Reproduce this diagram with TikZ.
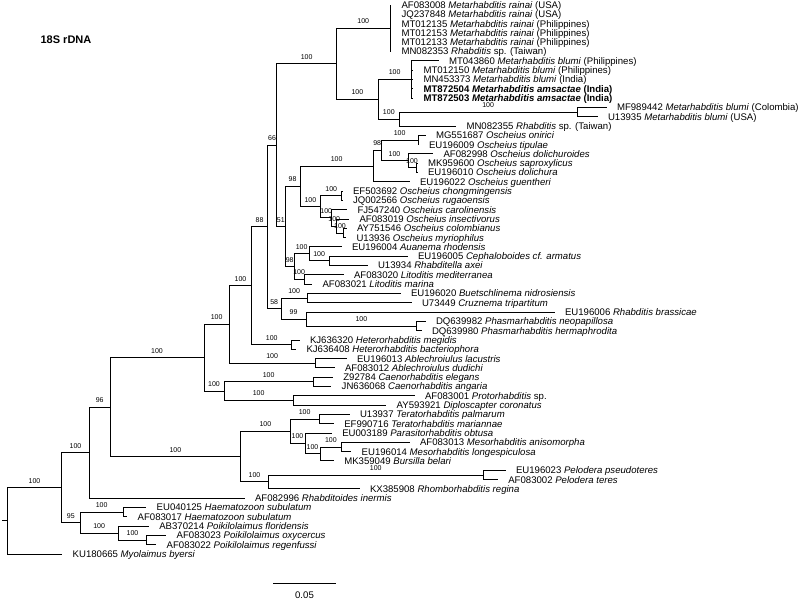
\documentclass[tikz,border=0pt]{standalone}
\usepackage{fontspec}
\setmainfont{Liberation Sans}
\tikzset{
  leaf/.style={anchor=west, inner xsep=0pt, outer xsep=10.5pt, inner ysep=0pt,
    text height=6.9pt, text depth=0pt, font=\fontsize{9.6}{10}\selectfont},
  boot/.style={pos=.75, above=4pt, inner sep=0pt, font=\fontsize{7}{8}\selectfont},
}
\begin{document}
\begin{tikzpicture}[x=1pt,y=-1pt,line width=0.9pt]
\useasboundingbox (0,0) rectangle (800,600);
% Titol
\node[font=\bfseries\fontsize{11}{13}\selectfont] (tit) at (66,40) {18S rDNA};
% Fulles
\node[leaf] (l0) at (391,5) {AF083008 \textit{Metarhabditis rainai} (USA)};
\node[leaf] (l1) at (391,14.3) {JQ237848 \textit{Metarhabditis rainai} (USA)};
\node[leaf] (l2) at (391,23.6) {MT012135 \textit{Metarhabditis rainai} (Philippines)};
\node[leaf] (l3) at (391,32.9) {MT012153 \textit{Metarhabditis rainai} (Philippines)};
\node[leaf] (l4) at (391,42.2) {MT012133 \textit{Metarhabditis rainai} (Philippines)};
\node[leaf] (l5) at (391,51.5) {MN082353 \textit{Rhabditis} sp. (Taiwan)};
\node[leaf] (l6) at (438.5,60.8) {MT043860 \textit{Metarhabditis blumi} (Philippines)};
\node[leaf] (l7) at (413,70.1) {MT012150 \textit{Metarhabditis blumi} (Philippines)};
\node[leaf] (l8) at (413,79.4) {MN453373 \textit{Metarhabditis blumi} (India)};
\node[leaf] (l9) at (413,88.7) {\bfseries MT872504 \textit{Metarhabditis amsactae} (India)};
\node[leaf] (l10) at (413,98.1) {\bfseries MT872503 \textit{Metarhabditis amsactae} (India)};
\node[leaf] (l11) at (606.5,107.4) {MF989442 \textit{Metarhabditis blumi} (Colombia)};
\node[leaf] (l12) at (597.5,116.7) {U13935 \textit{Metarhabditis blumi} (USA)};
\node[leaf] (l13) at (456,126) {MN082355 \textit{Rhabditis} sp. (Taiwan)};
\node[leaf] (l14) at (425.5,135.3) {MG551687 \textit{Oscheius onirici}};
\node[leaf] (l15) at (418.5,144.6) {EU196009 \textit{Oscheius tipulae}};
\node[leaf] (l16) at (433,153.9) {AF082998 \textit{Oscheius dolichuroides}};
\node[leaf] (l17) at (417.5,163.2) {MK959600 \textit{Oscheius saproxylicus}};
\node[leaf] (l18) at (417.5,172.5) {EU196010 \textit{Oscheius dolichura}};
\node[leaf] (l19) at (409.5,181.8) {EU196022 \textit{Oscheius guentheri}};
\node[leaf] (l20) at (342.5,191.1) {EF503692 \textit{Oscheius chongmingensis}};
\node[leaf] (l21) at (342.5,200.4) {JQ002566 \textit{Oscheius rugaoensis}};
\node[leaf] (l22) at (347,209.7) {FJ547240 \textit{Oscheius carolinensis}};
\node[leaf] (l23) at (349,219) {AF083019 \textit{Oscheius insectivorus}};
\node[leaf] (l24) at (346.5,228.3) {AY751546 \textit{Oscheius colombianus}};
\node[leaf] (l25) at (346,237.6) {U13936 \textit{Oscheius myriophilus}};
\node[leaf] (l26) at (341.5,246.9) {EU196004 \textit{Auanema rhodensis}};
\node[leaf] (l27) at (407.5,256.2) {EU196005 \textit{Cephaloboides cf. armatus}};
\node[leaf] (l28) at (367.5,265.5) {U13934 \textit{Rhabditella axei}};
\node[leaf] (l29) at (343.5,274.8) {AF083020 \textit{Litoditis mediterranea}};
\node[leaf] (l30) at (312,284.2) {AF083021 \textit{Litoditis marina}};
\node[leaf] (l31) at (400.5,293.5) {EU196020 \textit{Buetschlinema nidrosiensis}};
\node[leaf] (l32) at (411.5,302.8) {U73449 \textit{Cruznema tripartitum}};
\node[leaf] (l33) at (554.5,312.1) {EU196006 \textit{Rhabditis brassicae}};
\node[leaf] (l34) at (425.5,321.4) {DQ639982 \textit{Phasmarhabditis neopapillosa}};
\node[leaf] (l35) at (421.5,330.7) {DQ639980 \textit{Phasmarhabditis hermaphrodita}};
\node[leaf] (l36) at (299.5,340) {KJ636320 \textit{Heterorhabditis megidis}};
\node[leaf] (l37) at (296,349.3) {KJ636408 \textit{Heterorhabditis bacteriophora}};
\node[leaf] (l38) at (346.5,358.6) {EU196013 \textit{Ablechroiulus lacustris}};
\node[leaf] (l39) at (334.5,367.9) {AF083012 \textit{Ablechroiulus dudichi}};
\node[leaf] (l40) at (332.8,377.2) {Z92784 \textit{Caenorhabditis elegans}};
\node[leaf] (l41) at (331.2,386.5) {JN636068 \textit{Caenorhabditis angaria}};
\node[leaf] (l42) at (414.5,395.8) {AF083001 \textit{Protorhabditis} sp.};
\node[leaf] (l43) at (386.2,405.1) {AY593921 \textit{Diploscapter coronatus}};
\node[leaf] (l44) at (349.5,414.4) {U13937 \textit{Teratorhabditis palmarum}};
\node[leaf] (l45) at (333.8,423.7) {EF990716 \textit{Teratorhabditis mariannae}};
\node[leaf] (l46) at (331.8,433) {EU003189 \textit{Parasitorhabditis obtusa}};
\node[leaf] (l47) at (409.5,442.3) {AF083013 \textit{Mesorhabditis anisomorpha}};
\node[leaf] (l48) at (351.2,451.6) {EU196014 \textit{Mesorhabditis longespiculosa}};
\node[leaf] (l49) at (333.8,460.9) {MK359049 \textit{Bursilla belari}};
\node[leaf] (l50) at (505.5,470.3) {EU196023 \textit{Pelodera pseudoteres}};
\node[leaf] (l51) at (497.8,479.6) {AF083002 \textit{Pelodera teres}};
\node[leaf] (l52) at (359.5,488.9) {KX385908 \textit{Rhomborhabditis regina}};
\node[leaf] (l53) at (244.5,498.2) {AF082996 \textit{Rhabditoides inermis}};
\node[leaf] (l54) at (146.2,507.5) {EU040125 \textit{Haematozoon subulatum}};
\node[leaf] (l55) at (127.2,516.8) {AF083017 \textit{Haematozoon subulatum}};
\node[leaf] (l56) at (148.8,526.1) {AB370214 \textit{Poikilolaimus floridensis}};
\node[leaf] (l57) at (166.2,535.4) {AF083023 \textit{Poikilolaimus oxycercus}};
\node[leaf] (l58) at (156.2,544.7) {AF083022 \textit{Poikilolaimus regenfussi}};
\node[leaf] (l59) at (62.2,554) {KU180665 \textit{Myolaimus byersi}};
% Nodes interns
\coordinate (st) at (2,520.8);
\coordinate (rt) at (7.3,520.8);
\coordinate (nA) at (61.7,487.65);
\coordinate (r1) at (89.3,452.7);
\coordinate (nC) at (80,522.6);
\coordinate (hz) at (123.3,512.15);
\coordinate (pk) at (118.3,533.1);
\coordinate (po) at (146.7,540.05);
\coordinate (n96) at (110,407.2);
\coordinate (nB) at (204,357.8);
\coordinate (x4) at (229.3,324.5);
\coordinate (x3) at (251.7,285.8);
\coordinate (x2) at (267.3,226.9);
\coordinate (x1) at (276.7,145.15);
\coordinate (met) at (336.5,63.7);
\coordinate (mr) at (390,28.25);
\coordinate (bl) at (378.3,99.2);
\coordinate (bb) at (411,79.45);
\coordinate (lr) at (399.3,119);
\coordinate (mf) at (577,112.05);
\coordinate (n51) at (285,226.6);
\coordinate (o98) at (300,186.45);
\coordinate (og) at (373.3,166.1);
\coordinate (os) at (381,150.4);
\coordinate (on) at (418.3,139.95);
\coordinate (d1) at (408,160.9);
\coordinate (d2) at (416,167.85);
\coordinate (op) at (320.7,206.8);
\coordinate (och) at (341.7,195.75);
\coordinate (oc) at (331.7,217.85);
\coordinate (od) at (336.7,226);
\coordinate (oe) at (343.3,232.95);
\coordinate (a98) at (294.3,266.7);
\coordinate (ar) at (309,253.9);
\coordinate (cr) at (329.3,260.85);
\coordinate (lt) at (304,279.5);
\coordinate (n58) at (281,308.6);
\coordinate (bc) at (307.3,298.15);
\coordinate (rp) at (306,319.1);
\coordinate (ph) at (416.7,326.05);
\coordinate (ht) at (291.7,344.65);
\coordinate (ab) at (315,363.25);
\coordinate (cp) at (224,391.15);
\coordinate (ce) at (313.3,381.85);
\coordinate (pd) at (293.3,400.45);
\coordinate (nM) at (240.7,456.6);
\coordinate (tt) at (290,431.25);
\coordinate (tr) at (319.3,419.05);
\coordinate (ms) at (305,443.45);
\coordinate (mb) at (320,453.9);
\coordinate (me) at (341.7,446.95);
\coordinate (pr) at (268.3,481.9);
\coordinate (pl) at (483.3,474.95);
% Arrel i grups basals
\draw (st) -- (rt);
\draw (rt) |- (nA) node[boot]{100};
\draw (rt) |- (l59.west);
\draw (nA) |- (r1) node[boot]{100};
\draw (nA) |- (nC) node[boot]{95};
\draw (nC) |- (hz) node[boot]{100};
\draw (nC) |- (pk) node[boot]{100};
\draw (hz) |- (l54.west);
\draw (hz) |- (l55.west);
\draw (pk) |- (l56.west);
\draw (pk) |- (po) node[boot]{100};
\draw (po) |- (l57.west);
\draw (po) |- (l58.west);
\draw (r1) |- (n96) node[boot]{96};
\draw (r1) |- (l53.west);
\draw (n96) |- (nB) node[boot]{100};
\draw (n96) |- (nM) node[boot]{100};
% Caenorhabditis i afins
\draw (nB) |- (x4) node[boot]{100};
\draw (nB) |- (cp) node[boot]{100};
\draw (cp) |- (ce) node[boot]{100};
\draw (cp) |- (pd) node[boot]{100};
\draw (ce) |- (l40.west);
\draw (ce) |- (l41.west);
\draw (pd) |- (l42.west);
\draw (pd) |- (l43.west);
\draw (x4) |- (x3) node[boot]{100};
\draw (x4) |- (ab) node[boot]{100};
\draw (ab) |- (l38.west);
\draw (ab) |- (l39.west);
\draw (x3) |- (x2) node[boot]{88};
\draw (x3) |- (ht) node[boot]{100};
\draw (ht) |- (l36.west);
\draw (ht) |- (l37.west);
\draw (x2) |- (x1) node[boot]{66};
\draw (x2) |- (n58) node[boot]{58};
\draw (n58) |- (bc) node[boot]{100};
\draw (n58) |- (rp) node[boot]{99};
\draw (bc) |- (l31.west);
\draw (bc) |- (l32.west);
\draw (rp) |- (l33.west);
\draw (rp) |- (ph) node[boot]{100};
\draw (ph) |- (l34.west);
\draw (ph) |- (l35.west);
% Metarhabditis
\draw (x1) |- (met) node[boot]{100};
\draw (x1) |- (n51) node[boot]{51};
\draw (met) |- (mr) node[boot]{100};
\draw (met) |- (bl) node[boot]{100};
\draw (mr) |- (l0.west);
\draw (mr) |- (l1.west);
\draw (mr) |- (l2.west);
\draw (mr) |- (l3.west);
\draw (mr) |- (l4.west);
\draw (mr) |- (l5.west);
\draw (bl) |- (bb) node[boot]{100};
\draw (bl) |- (lr) node[boot]{100};
\draw (bb) |- (l6.west);
\draw (bb) |- (l7.west);
\draw (bb) |- (l8.west);
\draw (bb) |- (l9.west);
\draw (bb) |- (l10.west);
\draw (lr) |- (mf) node[boot]{100};
\draw (lr) |- (l13.west);
\draw (mf) |- (l11.west);
\draw (mf) |- (l12.west);
% Oscheius
\draw (n51) |- (o98) node[boot]{98};
\draw (n51) |- (a98) node[boot]{98};
\draw (o98) |- (og) node[boot]{100};
\draw (o98) |- (op) node[boot]{100};
\draw (og) |- (os) node[boot]{98};
\draw (og) |- (l19.west);
\draw (os) |- (on) node[boot]{100};
\draw (os) |- (d1) node[boot]{100};
\draw (on) |- (l14.west);
\draw (on) |- (l15.west);
\draw (d1) |- (l16.west);
\draw (d1) |- (d2) node[boot]{100};
\draw (d2) |- (l17.west);
\draw (d2) |- (l18.west);
\draw (op) |- (och) node[boot]{100};
\draw (op) |- (oc) node[boot]{100};
\draw (och) |- (l20.west);
\draw (och) |- (l21.west);
\draw (oc) |- (l22.west);
\draw (oc) |- (od) node[boot]{100};
\draw (od) |- (l23.west);
\draw (od) |- (oe) node[boot]{100};
\draw (oe) |- (l24.west);
\draw (oe) |- (l25.west);
% Auanema i Litoditis
\draw (a98) |- (ar) node[boot]{100};
\draw (a98) |- (lt) node[boot]{100};
\draw (ar) |- (l26.west);
\draw (ar) |- (cr) node[boot]{100};
\draw (cr) |- (l27.west);
\draw (cr) |- (l28.west);
\draw (lt) |- (l29.west);
\draw (lt) |- (l30.west);
% Mesorhabditis i Pelodera
\draw (nM) |- (tt) node[boot]{100};
\draw (nM) |- (pr) node[boot]{100};
\draw (tt) |- (tr) node[boot]{100};
\draw (tt) |- (ms) node[boot]{100};
\draw (tr) |- (l44.west);
\draw (tr) |- (l45.west);
\draw (ms) |- (l46.west);
\draw (ms) |- (mb) node[boot]{100};
\draw (mb) |- (me) node[boot]{100};
\draw (mb) |- (l49.west);
\draw (me) |- (l47.west);
\draw (me) |- (l48.west);
\draw (pr) |- (pl) node[boot]{100};
\draw (pr) |- (l52.west);
\draw (pl) |- (l50.west);
\draw (pl) |- (l51.west);
% Escala
\coordinate (e0) at (273,583);
\coordinate (e1) at (336,583);
\draw (e0) -- (e1) node[midway, below=8.5pt, inner sep=0pt, font=\fontsize{9.6}{10}\selectfont] (esc) {0.05};
\end{tikzpicture}
\end{document}
